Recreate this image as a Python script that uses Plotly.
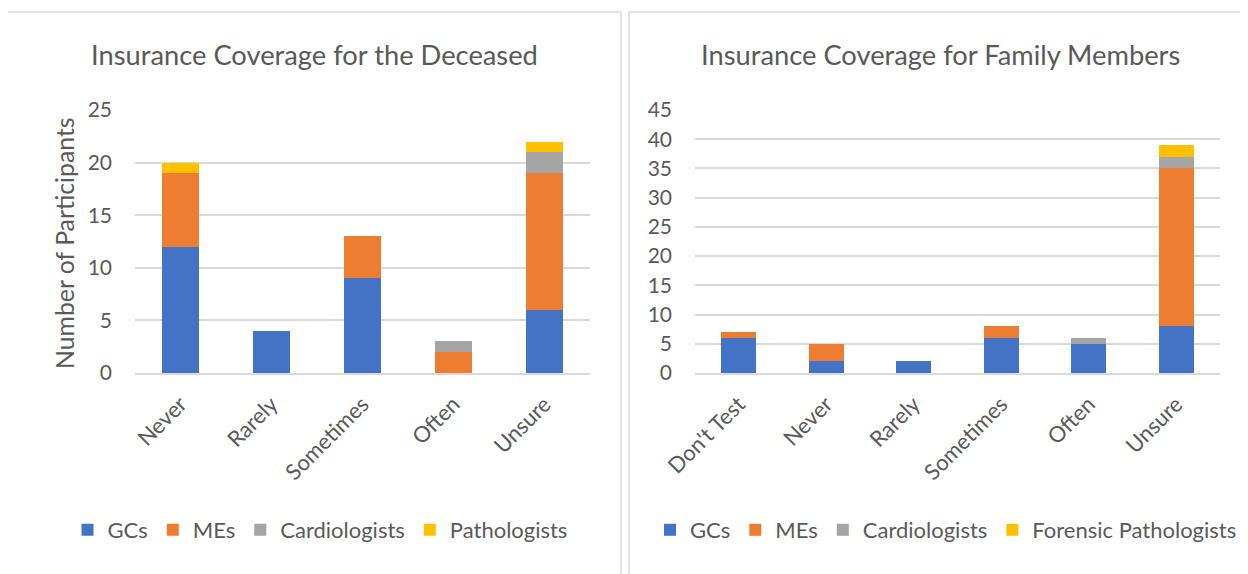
import plotly.graph_objects as go

W, H = 1248, 574
OFF = 8  # page body margin in the rendered page

# ---- data ----
cats_left = ["Never", "Rarely", "Sometimes", "Often", "Unsure"]
left_gcs = [12, 4, 9, 0, 6]
left_mes = [7, 0, 4, 2, 13]
left_cardio = [0, 0, 0, 1, 2]
left_path = [1, 0, 0, 0, 1]

cats_right = ["Don't Test", "Never", "Rarely", "Sometimes", "Often", "Unsure"]
right_gcs = [6, 2, 2, 6, 5, 8]
right_mes = [1, 3, 0, 2, 0, 27]
right_cardio = [0, 0, 0, 0, 1, 2]
right_forpath = [0, 0, 0, 0, 0, 2]

left_names = ["GCs", "MEs", "Cardiologists", "Pathologists"]
right_names = ["GCs", "MEs", "Cardiologists", "Forensic Pathologists"]
colors = ["#4472C4", "#ED7D31", "#A5A5A5", "#FFC000"]

FONT = "Lato"
TXT = "#595959"
GRID = "#D9D9D9"


def px(x):
    return (x - OFF) / W


def py(y):
    return 1 - (y - OFF) / H


fig = go.Figure()

for name, vals, col in zip(left_names, [left_gcs, left_mes, left_cardio, left_path], colors):
    fig.add_trace(go.Bar(x=cats_left, y=vals, name=name, marker=dict(color=col, line=dict(width=0)),
                         xaxis="x", yaxis="y", legend="legend"))
for name, vals, col in zip(right_names, [right_gcs, right_mes, right_cardio, right_forpath], colors):
    fig.add_trace(go.Bar(x=cats_right, y=vals, name=name, marker=dict(color=col, line=dict(width=0)),
                         xaxis="x2", yaxis="y2", legend="legend2"))

axis_common = dict(showline=True, linecolor=GRID, linewidth=1.5, ticks="", tickangle=-45, automargin=False,
                   tickfont=dict(family=FONT, size=22, color=TXT), ticklabelstandoff=8)
yaxis_common = dict(showgrid=True, gridcolor=GRID, gridwidth=1.5, zeroline=False, showline=False,
                    automargin=False,
                    tickfont=dict(family=FONT, size=21, color=TXT), ticklabelstandoff=22)

leg_font = dict(family=FONT, size=22, color=TXT)

fig.update_layout(
    width=W, height=H,
    margin=dict(l=0, r=0, t=0, b=0, autoexpand=False),
    paper_bgcolor="white", plot_bgcolor="white",
    barmode="stack", bargap=0.6,
    font=dict(family=FONT, color=TXT),
    showlegend=True,
    xaxis=dict(domain=[px(135), px(590)], anchor="y", **axis_common),
    yaxis=dict(domain=[py(373), py(110)], anchor="x", range=[0, 25], dtick=5, **yaxis_common),
    xaxis2=dict(domain=[px(695), px(1220)], anchor="y2", **axis_common),
    yaxis2=dict(domain=[py(373), py(110)], anchor="x2", range=[0, 45], dtick=5, **yaxis_common),
    legend=dict(orientation="h", xref="container", yref="container", x=px(320), xanchor="center",
                y=py(530), yanchor="middle", font=leg_font, bgcolor="rgba(0,0,0,0)", traceorder="normal"),
    legend2=dict(orientation="h", xref="container", yref="container", x=px(946), xanchor="center",
                 y=py(530), yanchor="middle", font=leg_font, bgcolor="rgba(0,0,0,0)", traceorder="normal"),
    shapes=[
        dict(type="rect", xref="paper", yref="paper", x0=px(6), x1=px(621), y0=py(600), y1=py(12),
             line=dict(color=GRID, width=1.5), fillcolor="rgba(0,0,0,0)", layer="below"),
        dict(type="rect", xref="paper", yref="paper", x0=px(629), x1=px(1270), y0=py(600), y1=py(12),
             line=dict(color=GRID, width=1.5), fillcolor="rgba(0,0,0,0)", layer="below"),
    ],
    annotations=[
        dict(text="Insurance Coverage for the Deceased", xref="paper", yref="paper", x=px(314), y=py(55),
             xanchor="center", yanchor="middle", showarrow=False, font=dict(family=FONT, size=27.3, color=TXT)),
        dict(text="Insurance Coverage for Family Members",
             xref="paper", yref="paper", x=px(940), y=py(55),
             xanchor="center", yanchor="middle", showarrow=False, font=dict(family=FONT, size=27.3, color=TXT)),
        dict(text="Number of Participants", xref="paper", yref="paper", x=px(64), y=py(243),
             xanchor="center", yanchor="middle", textangle=-90, showarrow=False,
             font=dict(family=FONT, size=24.8, color=TXT)),
    ],
)

fig.write_html("out.html")
